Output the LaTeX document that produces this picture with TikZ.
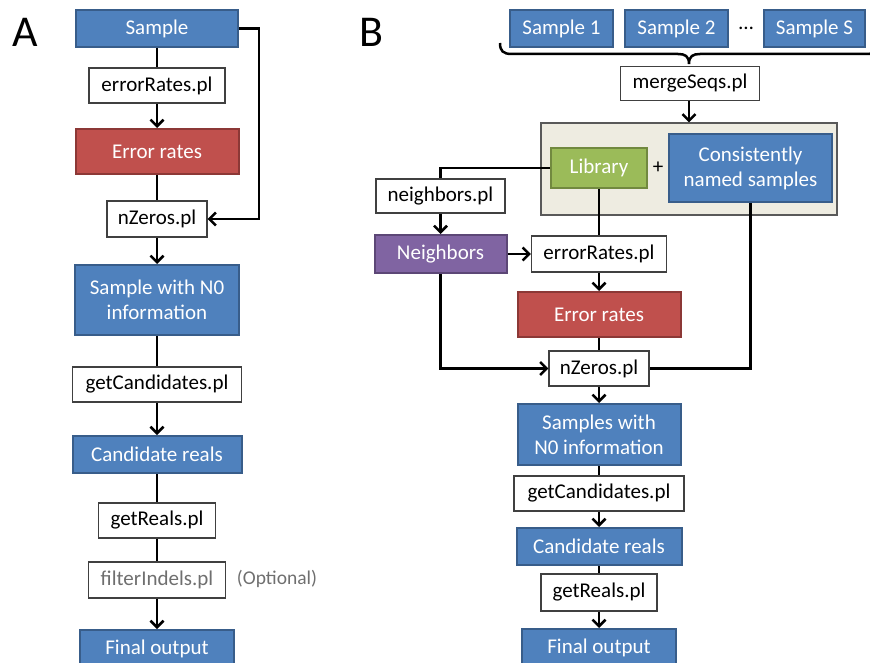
\documentclass[tikz,border=0pt]{standalone}
\usepackage{fontspec}
\setmainfont{Carlito}
\usetikzlibrary{arrows.meta}
\definecolor{bfill}{HTML}{4F81BD}\definecolor{bline}{HTML}{385D8A}
\definecolor{rfill}{HTML}{C0504D}\definecolor{rline}{HTML}{8C3836}
\definecolor{gfill}{HTML}{9BBB59}\definecolor{gline}{HTML}{71893F}
\definecolor{pfill}{HTML}{8064A2}\definecolor{pline}{HTML}{5C4776}
\definecolor{bgfill}{HTML}{EEECE1}\definecolor{bgline}{HTML}{595959}
\definecolor{greytext}{HTML}{6F6F6F}
\tikzset{
  box/.style={rectangle, inner sep=0pt, align=center, font=\fontsize{21}{25}\selectfont},
  bluebox/.style={box, fill=bfill, draw=bline, line width=2pt, text=white},
  redbox/.style={box, fill=rfill, draw=rline, line width=2pt, text=white},
  greenbox/.style={box, fill=gfill, draw=gline, line width=2pt, text=white},
  purplebox/.style={box, fill=pfill, draw=pline, line width=2pt, text=white},
  script/.style={box, fill=white, draw=black!75, line width=1.2pt, text=black},
  conn/.style={line width=2.5pt, black},
  arr/.style={conn, -{Straight Barb[length=6.5pt,width=13pt]}},
}
\begin{document}
\begin{tikzpicture}[x=1pt,y=-1pt]
\useasboundingbox (0,0) rectangle (870,663);
% labels
\node[font=\fontsize{44}{44}\selectfont, inner sep=0pt] (labA) at (25,32) {A};
\node[font=\fontsize{44}{44}\selectfont, inner sep=0pt] (labB) at (371,32) {B};
% ---------- Panel A ----------
\node[bluebox, minimum width=162pt, minimum height=37pt] (sA) at (157,28.5) {Sample};
\node[script, minimum width=136pt, minimum height=35pt] (erA) at (157,85.5) {errorRates.pl};
\node[redbox, minimum width=163pt, minimum height=45pt] (ratesA) at (157,151.5) {Error rates};
\node[script, minimum width=100pt, minimum height=36pt] (nzA) at (157,219) {nZeros.pl};
\node[bluebox, minimum width=164pt, minimum height=70pt] (n0A) at (157,300) {Sample with N0\\information};
\node[script, minimum width=169pt, minimum height=35pt] (gcA) at (157,384.5) {getCandidates.pl};
\node[bluebox, minimum width=169pt, minimum height=37pt] (crA) at (157,454.5) {Candidate reals};
\node[script, minimum width=117pt, minimum height=35pt] (grA) at (157,520.5) {getReals.pl};
\node[script, minimum width=137pt, minimum height=36pt, text=greytext] (fiA) at (157,580) {filterIndels.pl};
\node[box, text=greytext, font=\fontsize{19.5}{22}\selectfont] (optA) at (277,579) {(Optional)};
\node[bluebox, minimum width=154pt, minimum height=38pt] (foA) at (157,649) {Final output};
\draw[conn] (sA) -- (erA);
\draw[arr] (erA) -- (ratesA);
\draw[conn] (ratesA) -- (nzA);
\draw[arr] (nzA) -- (n0A);
\draw[conn] (n0A) -- (gcA);
\draw[arr] (gcA) -- (crA);
\draw[conn] (crA) -- (grA);
\draw[conn] (grA) -- (fiA);
\draw[arr] (fiA) -- (foA);
\coordinate (loopA) at (259,28.5);
\draw[arr] (sA.east) -- (loopA) |- (nzA.east);
% ---------- Panel B ----------
\node[bluebox, minimum width=103pt, minimum height=37pt] (s1) at (561.5,28.5) {Sample 1};
\node[bluebox, minimum width=103pt, minimum height=37pt] (s2) at (676.5,28.5) {Sample 2};
\node[box] (dots) at (746,28) {…};
\node[bluebox, minimum width=101pt, minimum height=37pt] (sS) at (814.5,28.5) {Sample S};
\draw[line width=2.5pt] (500,43) .. controls (500,51) and (503,54) .. (512,54)
  -- (678,54) .. controls (685,54) and (689,56) .. (689,64)
  .. controls (689,56) and (693,54) .. (700,54) -- (866,54)
  .. controls (875,54) and (878,51) .. (878,43);
\node[script, minimum width=139pt, minimum height=34pt] (merge) at (690,83.5) {mergeSeqs.pl};
\node[rectangle, fill=bgfill, draw=bgline, line width=1.2pt, minimum width=296pt, minimum height=92pt, inner sep=0pt] (bg) at (689,169) {};
\node[greenbox, minimum width=96pt, minimum height=40pt] (lib) at (599,168) {Library};
\node[box] (plus) at (658,168) {+};
\node[bluebox, minimum width=163pt, minimum height=68pt] (cns) at (750.5,168) {Consistently\\named samples};
\node[script, minimum width=129pt, minimum height=34pt] (nbpl) at (440.5,196) {neighbors.pl};
\node[purplebox, minimum width=132pt, minimum height=38pt] (nb) at (440.5,254) {Neighbors};
\node[script, minimum width=135pt, minimum height=36pt] (erB) at (599,254) {errorRates.pl};
\node[redbox, minimum width=163pt, minimum height=45pt] (ratesB) at (599,314.5) {Error rates};
\node[script, minimum width=100pt, minimum height=35pt] (nzB) at (599,368.5) {nZeros.pl};
\node[bluebox, minimum width=163pt, minimum height=61pt] (n0B) at (599,434.5) {Samples with\\N0 information};
\node[script, minimum width=170pt, minimum height=35pt] (gcB) at (599,493.5) {getCandidates.pl};
\node[bluebox, minimum width=165pt, minimum height=37pt] (crB) at (599,546.5) {Candidate reals};
\node[script, minimum width=116pt, minimum height=37pt] (grB) at (599,592.5) {getReals.pl};
\node[bluebox, minimum width=154pt, minimum height=38pt] (foB) at (599,648) {Final output};
\draw[arr] (merge.south -| bg.north) -- (bg.north);
\draw[conn] (lib.west) -| (nbpl.north);
\draw[arr] (nbpl) -- (nb);
\draw[arr] (nb) -- (erB);
\draw[conn] (lib) -- (erB);
\draw[arr] (erB) -- (ratesB);
\draw[conn] (ratesB) -- (nzB);
\draw[arr] (nb.south) |- (nzB.west);
\draw[conn] (cns.south) |- (nzB.east);
\draw[arr] (nzB) -- (n0B);
\draw[conn] (n0B) -- (gcB);
\draw[arr] (gcB) -- (crB);
\draw[conn] (crB) -- (grB);
\draw[arr] (grB) -- (foB);
\end{tikzpicture}
\end{document}
